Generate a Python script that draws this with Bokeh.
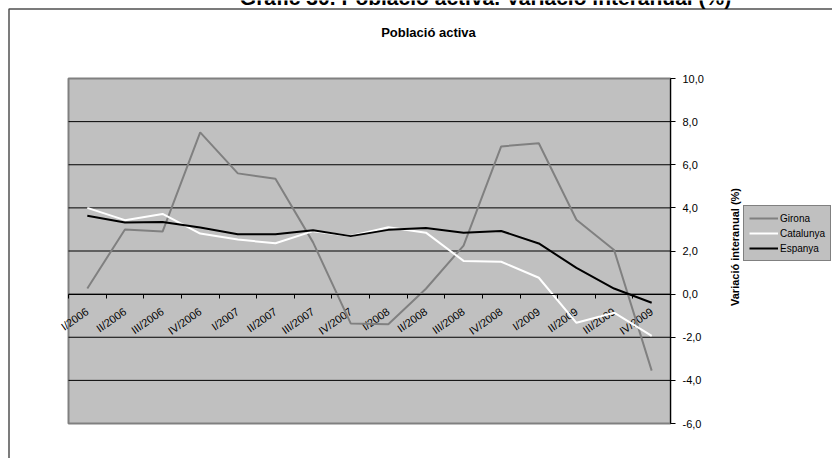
import math
from bokeh.plotting import figure
from bokeh.models import (Range1d, LinearAxis, FixedTicker, CustomJSTickFormatter,
                          Label, Legend, LegendItem)
from bokeh.embed import file_html
from bokeh.resources import INLINE
from bokeh.core.properties import value

# ---- data ----
categories = ["I/2006", "II/2006", "III/2006", "IV/2006",
              "I/2007", "II/2007", "III/2007", "IV/2007",
              "I/2008", "II/2008", "III/2008", "IV/2008",
              "I/2009", "II/2009", "III/2009", "IV/2009"]
girona = [0.26, 3.0, 2.9, 7.5, 5.6, 5.35, 2.4, -1.36, -1.4, 0.25,
          2.25, 6.85, 7.0, 3.45, 2.05, -3.55]
catalunya = [4.0, 3.43, 3.72, 2.81, 2.53, 2.36, 2.92, 2.7, 3.1, 2.85,
             1.54, 1.5, 0.76, -1.33, -0.86, -1.94]
espanya = [3.63, 3.32, 3.35, 3.09, 2.78, 2.78, 2.96, 2.69, 2.98, 3.07,
           2.85, 2.93, 2.35, 1.22, 0.26, -0.4]
y_ticks = [-6, -4, -2, 0, 2, 4, 6, 8, 10]
series_names = ["Girona", "Catalunya", "Espanya"]
series_colors = ["#808080", "#FFFFFF", "#000000"]
page_title = "Gràfic 30. Població activa. Variació interanual (%)"
chart_title = "Població activa"
y_title = "Variació interanual (%)"

FONT = "Liberation Sans"
W, H = 832, 458
# plot-area box in canvas pixels
PA_L, PA_R, PA_T, PA_B = 68, 670, 78, 423

n = len(categories)
x_pos = [i + 0.5 for i in range(n)]
bounds_x = list(range(n + 1))
y_lo, y_hi = y_ticks[0], y_ticks[-1]

# ranges chosen so the plot-area box lands at the pixels above; frame = whole canvas
sx = (PA_R - PA_L) / n
sy = (PA_B - PA_T) / (y_hi - y_lo)
x_range = Range1d(-PA_L / sx, n + (W - PA_R) / sx)
y_range = Range1d(y_lo - (H - PA_B) / sy, y_hi + PA_T / sy)


def px_x(px):
    return (px - PA_L) / sx


def px_y(py):
    return y_hi + (PA_T - py) / sy


p = figure(width=W, height=H, x_range=x_range, y_range=y_range,
           x_axis_location=None, y_axis_location=None, title=None,
           toolbar_location=None, output_backend="svg", min_border=0,
           background_fill_color="white", border_fill_color="white",
           outline_line_color=None)
p.xgrid.visible = False
p.ygrid.visible = False

# outer chart border (left and top edges visible)
p.line([px_x(8.5), px_x(8.5), px_x(W + 10)], [px_y(H + 10), px_y(8.5), px_y(8.5)],
       line_color="#505050", line_width=1.5)

# plot area
p.quad(left=[0], right=[n], bottom=[y_lo], top=[y_hi],
       fill_color="#C0C0C0", line_color="#808080", line_width=2)

# horizontal gridlines
inner = y_ticks[1:-1]
p.segment(x0=[0] * len(inner), y0=inner, x1=[n] * len(inner), y1=inner,
          line_color="black", line_width=1)

# y axis (right side of the plot area)
yax = LinearAxis(fixed_location=n, bounds=(y_lo, y_hi), ticker=FixedTicker(ticks=y_ticks))
yax.formatter = CustomJSTickFormatter(code="return tick.toFixed(1).replace('.', ',');")
yax.axis_line_color = "black"
yax.major_tick_line_color = "black"
yax.major_tick_in = 0
yax.major_tick_out = 5
yax.minor_tick_line_color = None
yax.major_label_standoff = 7
yax.major_label_text_font = FONT
yax.major_label_text_font_size = "11px"
yax.major_label_text_color = "black"
p.add_layout(yax, "right")

# category axis crossing at 0 (tick marks between categories)
xax = LinearAxis(fixed_location=0, bounds=(0, n),
                 ticker=FixedTicker(ticks=[], minor_ticks=bounds_x))
xax.axis_line_color = "black"
xax.major_tick_in = 0
xax.major_tick_out = 0
xax.minor_tick_in = 0
xax.minor_tick_out = 4
xax.minor_tick_line_color = "black"
p.add_layout(xax, "below")

# category labels, slanted, hanging below the zero line
p.text(x=x_pos, y=[0] * n, text=categories, angle=math.radians(35),
       text_align="right", text_baseline="middle", x_offset=0, y_offset=16,
       text_font=value(FONT), text_font_size="11px", text_color="black")

# series
renderers = []
for vals, color in zip([girona, catalunya, espanya], series_colors):
    renderers.append(p.line(x_pos, vals, line_color=color, line_width=2))

legend = Legend(items=[LegendItem(label=nm, renderers=[r]) for nm, r in zip(series_names, renderers)],
                location=(743, H - 261), margin=0, padding=5, spacing=1,
                glyph_width=29, glyph_height=14, label_height=14, label_standoff=2,
                label_text_font=FONT, label_text_font_size="10px", label_text_color="black",
                background_fill_color="#C0C0C0", background_fill_alpha=1,
                border_line_color="#404040", border_line_width=1)
p.add_layout(legend)

p.add_layout(Label(x=485, y=H + 2.8, x_units="screen", y_units="screen", text=page_title,
                   text_align="center", text_baseline="middle", text_font=FONT,
                   text_font_size="21px", text_font_style="bold", text_color="black"))
p.add_layout(Label(x=428, y=H - 32, x_units="screen", y_units="screen", text=chart_title,
                   text_align="center", text_baseline="middle", text_font=FONT,
                   text_font_size="13px", text_font_style="bold", text_color="black"))
p.add_layout(Label(x=734, y=H - 246.5, x_units="screen", y_units="screen", text=y_title,
                   angle=math.pi / 2, text_align="center", text_baseline="middle",
                   text_font=FONT, text_font_size="11px", text_font_style="bold",
                   text_color="black"))

open("out.html", "w").write(file_html(p, INLINE))
